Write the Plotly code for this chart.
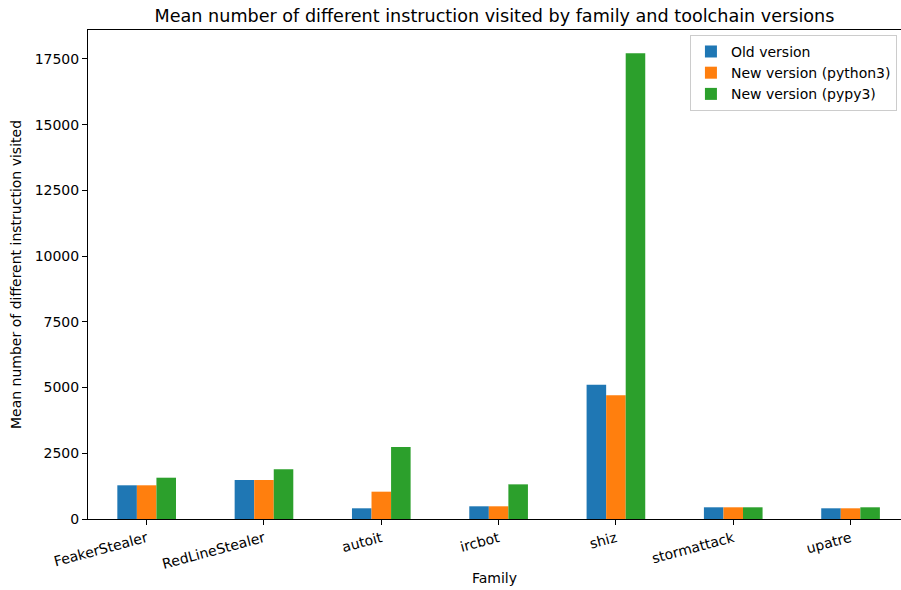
import plotly.graph_objects as go

families = ["FeakerStealer", "RedLineStealer", "autoit", "ircbot", "shiz", "stormattack", "upatre"]
old_version = [1282, 1483, 407, 483, 5109, 445, 407]
new_python3 = [1282, 1483, 1039, 483, 4704, 445, 407]
new_pypy3 = [1571, 1890, 2739, 1318, 17714, 445, 445]
y_ticks = [0, 2500, 5000, 7500, 10000, 12500, 15000, 17500]
y_tick_labels = ["0", "2500", "5000", "7500", "10000", "12500", "15000", "17500"]

series = [
    ("Old version", old_version, "#1f77b4"),
    ("New version (python3)", new_python3, "#ff7f0e"),
    ("New version (pypy3)", new_pypy3, "#2ca02c"),
]

fig = go.Figure()
for name, vals, color in series:
    fig.add_trace(go.Bar(x=list(range(len(families))), y=vals, name=name,
                         marker=dict(color=color, line=dict(width=0))))

font = "DejaVu Sans, sans-serif"
fig.update_layout(
    width=901, height=590,
    margin=dict(l=88, r=0, t=30, b=71),
    plot_bgcolor="white", paper_bgcolor="white",
    font=dict(family=font, size=14, color="black"),
    barmode="group", bargap=0.5, bargroupgap=0,
    title=dict(text="Mean number of different instruction visited by family and toolchain versions",
               font=dict(size=17.6, color="black"), x=0.5, xref="paper",
               xanchor="center", y=0.973, yanchor="middle"),
    legend=dict(x=0.995, y=0.99, xanchor="right", yanchor="top",
                bordercolor="#cccccc", borderwidth=1, bgcolor="white",
                font=dict(size=14), tracegroupgap=0, itemwidth=30),
    xaxis=dict(
        tickmode="array", tickvals=list(range(len(families))), ticktext=families,
        range=[-0.5, 6.43], tickangle=-15, showline=True, linecolor="black",
        linewidth=1, mirror=True, ticks="outside", ticklen=5, tickcolor="black",
        showgrid=False, zeroline=False,
        title=dict(text="Family", font=dict(size=14), standoff=2),
    ),
    yaxis=dict(
        range=[0, 18600], tickmode="array", tickvals=y_ticks, ticktext=y_tick_labels,
        showline=True, linecolor="black", linewidth=1, mirror=False,
        ticks="outside", ticklen=5, tickcolor="black", showgrid=False,
        zeroline=False,
        title=dict(text="Mean number of different instruction visited", font=dict(size=14), standoff=9),
    ),
)

fig.write_html("out.html")
